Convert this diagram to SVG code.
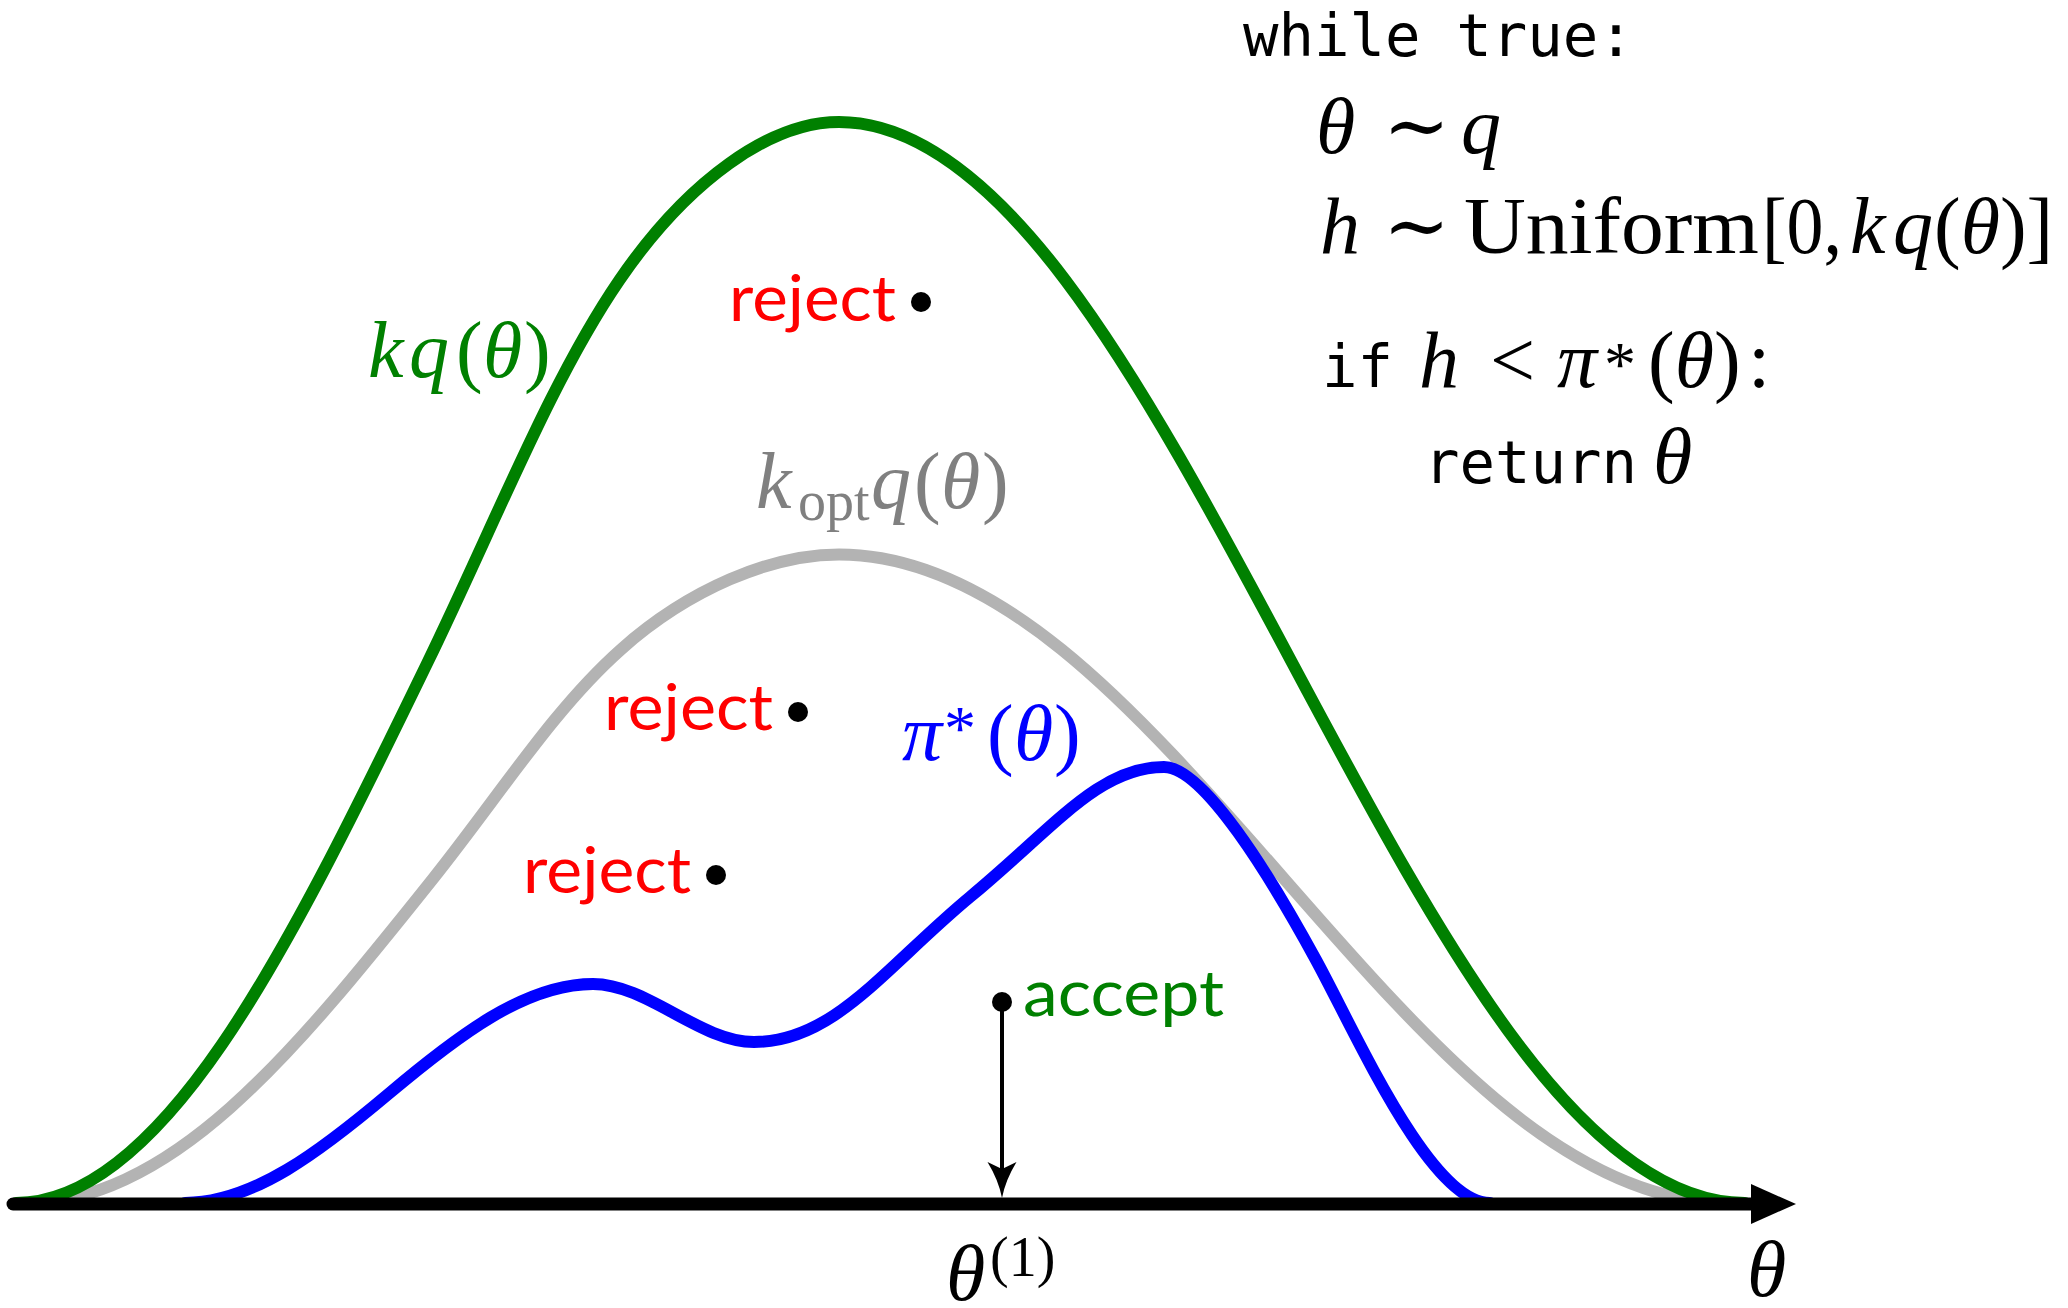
<svg xmlns="http://www.w3.org/2000/svg" width="2068" height="1308" viewBox="0 0 2068 1308">
<style>
.mi{font-family:"Liberation Serif","DejaVu Serif",serif;font-style:italic;font-size:80px}
.mr{font-family:"Liberation Serif","DejaVu Serif",serif;font-size:80px}
.sub{font-family:"Liberation Serif","DejaVu Serif",serif;font-size:56px}
.tt{font-family:"DejaVu Sans Mono",monospace;font-size:59px}
.ss{font-family:Lato,"Open Sans",sans-serif;font-size:63px}
.curve{fill:none;stroke-width:12;stroke-linecap:round;stroke-linejoin:round}
.dot{fill:#000}
</style>
<defs>
<marker id="axisHead" markerUnits="userSpaceOnUse" markerWidth="46" markerHeight="42" refX="0" refY="20" orient="auto">
<path d="M0,0 L45,20 L0,40 Z" fill="#000"/>
</marker>
<marker id="smallHead" markerUnits="userSpaceOnUse" markerWidth="38" markerHeight="30" refX="7" refY="14.5" orient="auto">
<path d="M0,0 Q18,11 36,14.5 Q18,18 0,29 L7,14.5 Z" fill="#000"/>
</marker>
</defs>
<rect width="2068" height="1308" fill="#fff"/>

<g id="curves">
<path id="kopt-curve" class="curve" stroke="#b3b3b3" stroke-width="10" d="M27,1203 C94.7,1203 162.3,1168.1 230,1108 C297.7,1048 365.3,963.6 433,878.7 C500.7,793.8 553.3,709.4 621,649.4 C688.7,589.3 771.3,554.4 839,554.4 C913.2,554.4 987.3,589.3 1061.5,649.4 C1135.7,709.4 1209.8,793.8 1284,878.7 C1358.2,963.6 1432.3,1048 1506.5,1108 C1580.7,1168.1 1654.8,1203 1729,1203"/>
<path id="kq-curve" class="curve" stroke="#008000" d="M16,1203 C84.6,1203 153.2,1144.8 221.75,1044.7 C290.3,944.6 358.9,804 427.5,662.5 C496.1,521 550.7,380.4 619.25,280.3 C687.8,180.2 770.4,122 839,122 C914.5,122 990,180.2 1065.5,280.3 C1141,380.4 1216.5,521 1292,662.5 C1367.5,804 1443,944.6 1518.5,1044.7 C1594,1144.8 1669.5,1203 1745,1203"/>
<path id="pi-curve" class="curve" stroke="#0000ff" d="M185,1203 C253,1203 321,1150.8 389,1093.5 C457,1036.2 525,984 593,984 C647,984 700,1042 754,1042 C834,1042 885,967.5 970,897 C1055,826.5 1099,767 1164,767 C1204,767 1271,877.6 1316,960 C1356,1033.2 1430,1203 1490,1203"/>
<line id="accept-arrow" x1="1002" y1="1002" x2="1002" y2="1169" stroke="#000" stroke-width="4" marker-end="url(#smallHead)"/>
<line id="axis" x1="13" y1="1204" x2="1751" y2="1204" stroke="#000" stroke-width="13" stroke-linecap="round" marker-end="url(#axisHead)"/>
</g>

<g id="sample-reject-1">
<text class="ss" x="729" y="321" fill="#ff0000" textLength="167" lengthAdjust="spacingAndGlyphs">reject</text>
<circle class="dot" cx="921" cy="302" r="10"/>
</g>
<g id="sample-reject-2">
<text class="ss" x="604" y="730" fill="#ff0000" textLength="169" lengthAdjust="spacingAndGlyphs">reject</text>
<circle class="dot" cx="798" cy="712" r="10"/>
</g>
<g id="sample-reject-3">
<text class="ss" x="523" y="893" fill="#ff0000" textLength="168" lengthAdjust="spacingAndGlyphs">reject</text>
<circle class="dot" cx="716" cy="875" r="10"/>
</g>
<g id="sample-accept">
<text class="ss" x="1023" y="1016" fill="#008000" textLength="201" lengthAdjust="spacingAndGlyphs">accept</text>
<circle class="dot" cx="1002" cy="1002" r="10"/>
</g>

<g id="label-kq">
<text y="377" fill="#008000"><tspan class="mi" x="368">k</tspan><tspan class="mi" x="409">q</tspan><tspan class="mr" x="456">(</tspan><tspan class="mi" x="483">θ</tspan><tspan class="mr" x="524">)</tspan></text>
</g>
<g id="label-kopt">
<text y="508" fill="#808080"><tspan class="mi" x="756">k</tspan><tspan class="sub" x="798" y="520">opt</tspan><tspan class="mi" x="871" y="508">q</tspan><tspan class="mr" x="914">(</tspan><tspan class="mi" x="941">θ</tspan><tspan class="mr" x="982">)</tspan></text>
</g>
<g id="label-pi">
<text y="760" fill="#0000ff"><tspan class="mi" x="902">π</tspan><tspan class="sub" x="944" y="750" style="font-size:64px">*</tspan><tspan class="mr" x="987" y="760">(</tspan><tspan class="mi" x="1014">θ</tspan><tspan class="mr" x="1054">)</tspan></text>
</g>
<g id="label-theta1">
<text y="1300" fill="#000"><tspan class="mi" x="946">θ</tspan><tspan class="sub" x="990" y="1276">(1)</tspan></text>
</g>
<g id="label-theta-axis">
<text class="mi" x="1747" y="1296" fill="#000">θ</text>
</g>

<g id="algorithm" fill="#000">
<text class="tt" x="1243" y="56">while true:</text>
<text y="153"><tspan class="mi" x="1316">θ</tspan><tspan class="mr" x="1383">∼</tspan><tspan class="mi" x="1461">q</tspan></text>
<text y="253"><tspan class="mi" x="1320">h</tspan><tspan class="mr" x="1383">∼</tspan><tspan class="mr" x="1464" textLength="295" lengthAdjust="spacingAndGlyphs">Uniform</tspan><tspan class="mr" x="1762" textLength="80" lengthAdjust="spacingAndGlyphs">[0,</tspan><tspan class="mi" x="1850">k</tspan><tspan class="mi" x="1893">q</tspan><tspan class="mr" x="1934">(</tspan><tspan class="mi">θ</tspan><tspan class="mr">)]</tspan></text>
<text y="387"><tspan class="tt" x="1322">if</tspan><tspan class="mi" x="1419">h</tspan><tspan class="mr" x="1490">&lt;</tspan><tspan class="mi" x="1557">π</tspan><tspan class="sub" x="1604" y="386" style="font-size:64px">*</tspan><tspan class="mr" x="1648" y="387">(</tspan><tspan class="mi">θ</tspan><tspan class="mr">)</tspan><tspan class="mr" x="1748">:</tspan></text>
<text y="483"><tspan class="tt" x="1424">return</tspan><tspan class="mi" x="1653">θ</tspan></text>
</g>
</svg>
